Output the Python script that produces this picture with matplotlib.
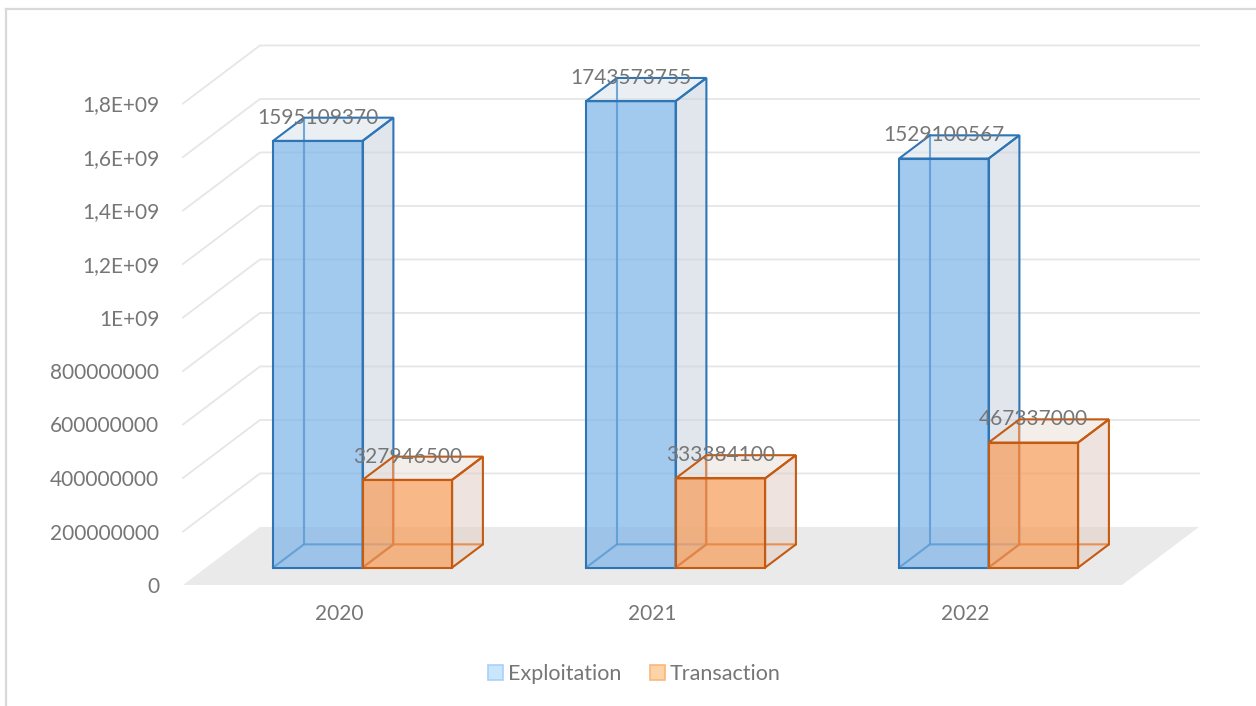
import numpy as np
import matplotlib.pyplot as plt
from matplotlib.patches import Polygon, Patch
from matplotlib.lines import Line2D

plt.rcParams['font.family'] = ['Lato', 'DejaVu Sans']

years = ['2020', '2021', '2022']
series_names = ['Exploitation', 'Transaction']
exploitation = [1595109370, 1743573755, 1529100567]
transaction = [327946500, 333384100, 467337000]
ytick_vals = [0, 2e8, 4e8, 6e8, 8e8, 1e9, 1.2e9, 1.4e9, 1.6e9, 1.8e9]
ytick_labels = ['0', '200000000', '400000000', '600000000', '800000000',
                '1E+09', '1,2E+09', '1,4E+09', '1,6E+09', '1,8E+09']

TXT = '#767676'
GRID = '#E6E6E6'
FS = 15

# fake 3d: full depth offset of the plot box, in data units
DX = 0.246
DY = 2.17e8
BAR_W = 0.286
Z0, Z1 = 0.3, 0.7

styles = {
    'Exploitation': dict(face='#7FB5E8', face_alpha=0.72, side='#C9D3DE', top='#DAE3EC',
                         edge='#2E75B6', hidden='#5B9BD5',
                         legend_face='#C9E6FD', legend_edge='#A5D2F8'),
    'Transaction': dict(face='#F7A060', face_alpha=0.75, side='#E1CDC3', top='#EBE1D9',
                        edge='#C55A11', hidden='#E9823E',
                        legend_face='#FDD3A7', legend_edge='#F9B77A'),
}

fig = plt.figure(figsize=(12.56, 7.06), dpi=100)
ax = fig.add_axes([183 / 1256, 121 / 706, 939 / 1256, 481.5 / 706])
ax.set_xlim(-0.5, len(years) - 0.5)
ax.set_ylim(0, 1.8e9)
for s in ax.spines.values():
    s.set_visible(False)


def p(x, y, z):
    return (x + z * DX, y + z * DY)


# floor
x_lo, x_hi = -0.5, len(years) - 0.5
ax.add_patch(Polygon([p(x_lo, 0, 0), p(x_hi, 0, 0), p(x_hi, 0, 1), p(x_lo, 0, 1)],
                     closed=True, facecolor='#EAEAEA', edgecolor='none', clip_on=False, zorder=0))
# gridlines: side wall + back wall
for v in ytick_vals[1:]:
    a, b, c = p(x_lo, v, 0), p(x_lo, v, 1), p(x_hi, v, 1)
    ax.plot([a[0], b[0], c[0]], [a[1], b[1], c[1]], color=GRID, lw=1.3,
            clip_on=False, zorder=0)


def draw_box(x0, h, st, zo):
    x1 = x0 + BAR_W
    lw = 1.5
    faces = [
        ([p(x1, 0, Z0), p(x1, 0, Z1), p(x1, h, Z1), p(x1, h, Z0)], st['side'], 0.55),
        ([p(x0, h, Z0), p(x1, h, Z0), p(x1, h, Z1), p(x0, h, Z1)], st['top'], 0.55),
        ([p(x0, 0, Z0), p(x1, 0, Z0), p(x1, h, Z0), p(x0, h, Z0)], st['face'], st['face_alpha']),
    ]
    for verts, fc, al in faces:
        ax.add_patch(Polygon(verts, closed=True, facecolor=fc, alpha=al,
                             edgecolor='none', clip_on=False, zorder=zo))
    # hidden edges, seen through the faces
    pts = [p(x0, 0, Z0), p(x0, 0, Z1), p(x1, 0, Z1)]
    ax.plot([q[0] for q in pts], [q[1] for q in pts], color=st['hidden'], lw=lw,
            alpha=0.85, clip_on=False, zorder=zo)
    pts = [p(x0, 0, Z1), p(x0, h, Z1)]
    ax.plot([q[0] for q in pts], [q[1] for q in pts], color=st['hidden'], lw=lw,
            alpha=0.85, clip_on=False, zorder=zo)
    for verts, fc, al in faces:
        ax.add_patch(Polygon(verts, closed=True, facecolor='none', edgecolor=st['edge'],
                             lw=lw, joinstyle='miter', clip_on=False, zorder=zo))


zo = 2
for i in range(len(years)):
    for k, (name, vals) in enumerate(zip(series_names, [exploitation, transaction])):
        x0 = i - BAR_W + k * BAR_W
        draw_box(x0, vals[i], styles[name], zo)
        zo += 1

for i in range(len(years)):
    for k, vals in enumerate([exploitation, transaction]):
        x0 = i - BAR_W + k * BAR_W
        lx, ly = p(x0 + BAR_W / 2, vals[i], Z0)
        ly = vals[i] + Z1 * DY
        ax.text(lx, ly, str(vals[i]), ha='center', va='center', fontsize=FS,
                color=TXT, zorder=50, clip_on=False)

ax.set_xticks(range(len(years)))
ax.set_xticklabels(years)
ax.set_yticks(ytick_vals)
ax.set_yticklabels(ytick_labels)
ax.tick_params(axis='both', length=0, labelsize=FS, labelcolor=TXT)
ax.tick_params(axis='y', pad=17)
ax.tick_params(axis='x', pad=14)

handles = [Patch(facecolor=styles[n]['legend_face'], edgecolor=styles[n]['legend_edge'], lw=1.2)
           for n in series_names]
fig.legend(handles, series_names, loc='center', bbox_to_anchor=(0.505, 1 - 674 / 706),
           ncol=2, frameon=False, fontsize=15.5, labelcolor=TXT, handlelength=0.7,
           handleheight=0.7, handletextpad=0.25, columnspacing=1.3)

# chart frame (left and top only visible)
fig.add_artist(Line2D([5.5 / 1256, 5.5 / 1256], [0, 1 - 9 / 706], color='#D9D9D9', lw=1.6))
fig.add_artist(Line2D([5.5 / 1256, 1], [1 - 9 / 706, 1 - 9 / 706], color='#D9D9D9', lw=1.6))

fig.savefig('out.png', dpi=100)
